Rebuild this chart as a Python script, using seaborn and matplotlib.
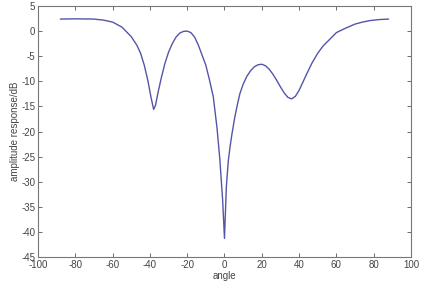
import matplotlib
matplotlib.use("Agg")
import matplotlib.pyplot as plt
import seaborn as sns
import pandas as pd

angle = [-88, -80, -70, -65, -60, -55, -50, -47, -45, -43, -41, -39.5, -38, -37,
         -35.5, -34, -32, -30, -28, -26, -24, -22, -20, -18, -16, -14, -12, -10,
         -8, -6, -4, -2.5, -1, 0, 1, 2, 3, 4, 5.6, 7, 8.3, 10, 12, 14, 16, 18, 20,
         22, 24, 26, 28, 30, 32, 34, 36, 38, 40, 42, 44, 47, 50, 53, 56, 60, 65,
         70, 74, 78, 83, 88]
response = [2.4, 2.45, 2.4, 2.2, 1.8, 0.8, -1.1, -2.8, -4.4, -6.8, -10.0, -13.0,
            -15.6, -14.8, -12.0, -9.5, -6.5, -4.2, -2.5, -1.2, -0.4, -0.05, 0.0,
            -0.3, -1.2, -2.8, -4.8, -6.8, -9.8, -13.1, -19.3, -25.5, -33.6, -41.3,
            -31.0, -26.0, -23.0, -20.5, -17.0, -14.5, -12.4, -10.6, -9.0, -7.9,
            -7.1, -6.7, -6.6, -6.9, -7.6, -8.6, -9.8, -11.1, -12.3, -13.2, -13.5,
            -13.0, -11.8, -10.2, -8.6, -6.3, -4.4, -2.9, -1.8, -0.3, 0.6, 1.4, 1.8,
            2.1, 2.3, 2.4]
xticks = list(range(-100, 101, 20))
yticks = list(range(-45, 6, 5))

df = pd.DataFrame({"angle": angle, "response": response})

sns.set_theme(style="white")
plt.rcParams['font.family'] = ['Liberation Sans', 'DejaVu Sans']

fig = plt.figure(figsize=(4.25, 2.88), dpi=100)
ax = fig.add_axes([0.0894, 0.1076, 0.8776, 0.8715])
sns.lineplot(data=df, x="angle", y="response", ax=ax, sort=False,
             estimator=None, color="#5555a8", linewidth=1.0)

ax.set_xlim(-100, 100)
ax.set_ylim(-45, 5)
ax.set_xticks(xticks)
ax.set_yticks(yticks)
ax.set_xticklabels([str(t) for t in xticks])
ax.set_yticklabels([str(t) for t in yticks])
ax.tick_params(axis='both', direction='in', length=3, width=0.6, labelsize=7,
               colors='#555555', labelcolor='#444444', top=True, right=True,
               bottom=True, left=True, pad=2)
for s in ax.spines.values():
    s.set_color('#777777')
    s.set_linewidth(0.8)
    s.set_visible(True)
ax.set_xlabel("angle", fontsize=7, color='#444444', labelpad=1)
ax.set_ylabel("amplitude response/dB", fontsize=7, color='#444444', labelpad=1)

fig.savefig("out.png", dpi=100)
